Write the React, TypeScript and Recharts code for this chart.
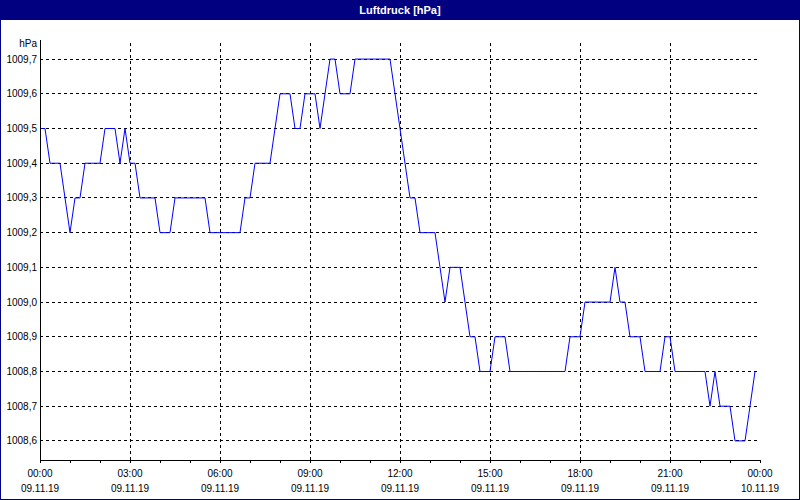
import React from 'react';
import {
  LineChart,
  Line,
  XAxis,
  YAxis,
  CartesianGrid,
  ReferenceLine,
  Label,
} from 'recharts';

// minutes after 09.11.19 00:00, read at the corners of the trace
const minutes = [
  0, 10, 20, 40, 50, 60, 70, 80, 90, 120, 130, 150, 160, 170, 180, 190, 200, 230,
  240, 260, 270, 330, 340, 400, 410, 420, 430, 460, 470, 480, 500, 510, 520, 530,
  550, 560, 570, 580, 590, 600, 620, 630, 700, 710, 720, 730, 740, 750, 760, 790,
  800, 810, 820, 840, 850, 860, 870, 880, 900, 910, 930, 940, 1050, 1060, 1080,
  1090, 1140, 1150, 1160, 1170, 1180, 1200, 1210, 1240, 1250, 1260, 1270, 1330,
  1340, 1350, 1360, 1380, 1390, 1410, 1420, 1430,
];

const pressure = [
  1009.5, 1009.5, 1009.4, 1009.4, 1009.3, 1009.2, 1009.3, 1009.3, 1009.4, 1009.4,
  1009.5, 1009.5, 1009.4, 1009.5, 1009.4, 1009.4, 1009.3, 1009.3, 1009.2, 1009.2,
  1009.3, 1009.3, 1009.2, 1009.2, 1009.3, 1009.3, 1009.4, 1009.4, 1009.5, 1009.6,
  1009.6, 1009.5, 1009.5, 1009.6, 1009.6, 1009.5, 1009.6, 1009.7, 1009.7, 1009.6,
  1009.6, 1009.7, 1009.7, 1009.6, 1009.5, 1009.4, 1009.3, 1009.3, 1009.2, 1009.2,
  1009.1, 1009.0, 1009.1, 1009.1, 1009.0, 1008.9, 1008.9, 1008.8, 1008.8, 1008.9,
  1008.9, 1008.8, 1008.8, 1008.9, 1008.9, 1009.0, 1009.0, 1009.1, 1009.0, 1009.0,
  1008.9, 1008.9, 1008.8, 1008.8, 1008.9, 1008.9, 1008.8, 1008.8, 1008.7, 1008.8,
  1008.7, 1008.7, 1008.6, 1008.6, 1008.7, 1008.8,
];

const yTicks = [1008.6, 1008.7, 1008.8, 1008.9, 1009.0, 1009.1, 1009.2, 1009.3, 1009.4, 1009.5, 1009.6, 1009.7];
const hourTicks = [0, 60, 120, 180, 240, 300, 360, 420, 480, 540, 600, 660, 720, 780, 840, 900, 960, 1020, 1080, 1140, 1200, 1260, 1320, 1380, 1440];
const majorTicks = [180, 360, 540, 720, 900, 1080, 1260];
const timeLabels = ['00:00', '03:00', '06:00', '09:00', '12:00', '15:00', '18:00', '21:00', '00:00'];
const dateLabels = ['09.11.19', '09.11.19', '09.11.19', '09.11.19', '09.11.19', '09.11.19', '09.11.19', '09.11.19', '10.11.19'];

const data = minutes.map((m, i) => ({ t: m, p: pressure[i] }));

const FONT = '"Liberation Sans", Arial, sans-serif';
const NAVY = '#000080';

const TimeTick = (props: any) => {
  const { x, y, payload } = props;
  const m = payload.value;
  if (m % 180 !== 0) return <g />;
  const i = m / 180;
  return (
    <text x={x} textAnchor="middle" fontFamily={FONT} fontSize={10} fill="#000">
      <tspan x={x} y={y + 12}>{timeLabels[i]}</tspan>
      <tspan x={x} y={y + 27}>{dateLabels[i]}</tspan>
    </text>
  );
};

const UnitLabel = (props: any) => {
  const { viewBox } = props;
  return (
    <text
      x={viewBox.x + viewBox.width - 3}
      y={viewBox.y + 7}
      textAnchor="end"
      fontFamily={FONT}
      fontSize={10}
      fill="#000"
    >
      hPa
    </text>
  );
};

export default function App() {
  return (
    <div style={{ position: 'absolute', left: 0, top: 0, width: 800, height: 500, background: '#fff' }}>
      <LineChart
        width={800}
        height={500}
        data={data}
        margin={{ top: 40, right: 40, bottom: 0, left: 0 }}
        style={{ position: 'absolute', left: 0, top: 0 }}
      >
        <CartesianGrid
          vertical={false}
          stroke="#000"
          strokeDasharray="3 3"
          shapeRendering="crispEdges"
          horizontalValues={yTicks}
        />
        {majorTicks.map((m) => (
          <ReferenceLine key={m} x={m} stroke="#000" strokeDasharray="3 3" shapeRendering="crispEdges" />
        ))}
        <XAxis
          dataKey="t"
          type="number"
          domain={[0, 1440]}
          ticks={hourTicks}
          interval={0}
          height={40}
          tickSize={3}
          tickMargin={2}
          axisLine={{ stroke: '#000', shapeRendering: 'crispEdges' }}
          tickLine={{ stroke: '#000', shapeRendering: 'crispEdges' }}
          tick={<TimeTick />}
        />
        <XAxis
          xAxisId="top"
          orientation="top"
          type="number"
          domain={[0, 1440]}
          height={0}
          tick={false}
          tickLine={false}
          axisLine={{ stroke: '#000', shapeRendering: 'crispEdges' }}
        />
        <YAxis
          type="number"
          domain={[1008.545, 1009.755]}
          ticks={yTicks}
          interval={0}
          width={40}
          tickSize={1}
          tickMargin={2}
          tickLine={false}
          axisLine={{ stroke: '#000', shapeRendering: 'crispEdges' }}
          tick={{ fontFamily: FONT, fontSize: 10, fill: '#000' }}
          tickFormatter={(v: number) => v.toFixed(1).replace('.', ',')}
          allowDataOverflow
        >
          <Label content={<UnitLabel />} />
        </YAxis>
        <YAxis
          yAxisId="right"
          orientation="right"
          type="number"
          domain={[0, 1]}
          width={0}
          tick={false}
          tickLine={false}
          axisLine={{ stroke: '#000', shapeRendering: 'crispEdges' }}
        />
        <Line
          type="linear"
          dataKey="p"
          stroke="#0000ff"
          strokeWidth={1}
          dot={false}
          isAnimationActive={false}
        />
      </LineChart>
      <div
        style={{
          position: 'absolute',
          left: 0,
          top: 0,
          width: 800,
          height: 20,
          background: NAVY,
          color: '#fff',
          fontFamily: FONT,
          fontWeight: 'bold',
          fontSize: 11,
          lineHeight: '20px',
          textAlign: 'center',
        }}
      >
        Luftdruck [hPa]
      </div>
      <div
        style={{
          position: 'absolute',
          left: 0,
          top: 0,
          width: 800,
          height: 500,
          boxSizing: 'border-box',
          border: `1px solid ${NAVY}`,
          pointerEvents: 'none',
        }}
      />
    </div>
  );
}
